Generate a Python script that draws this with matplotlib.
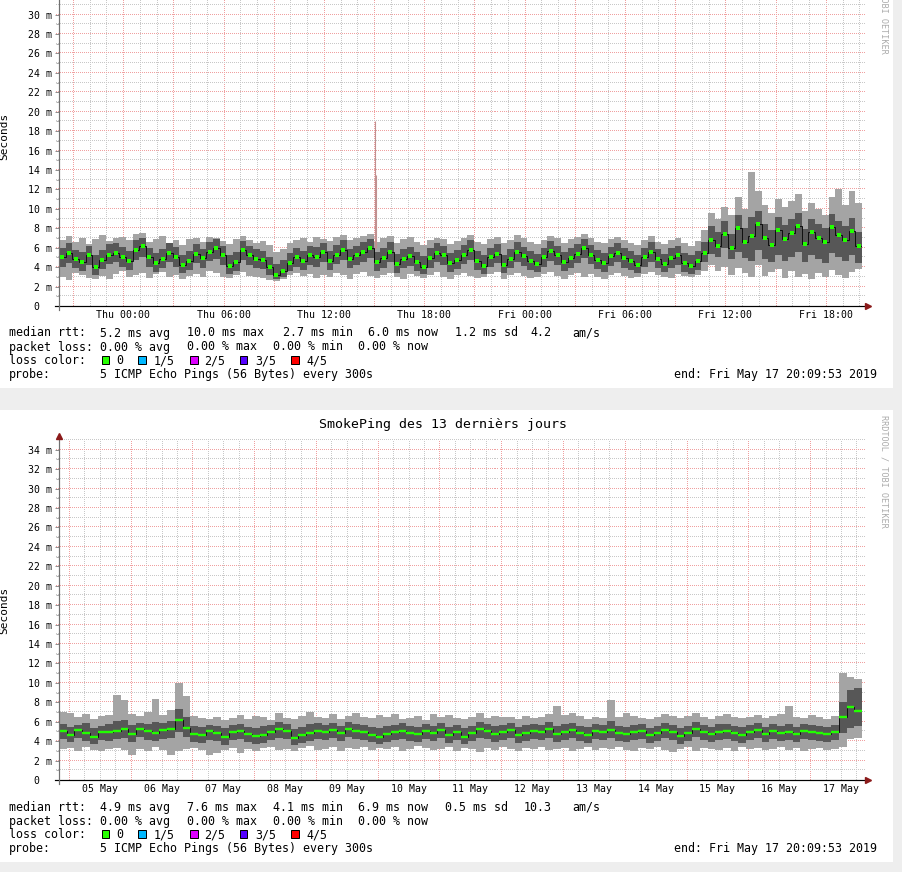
import numpy as np
import matplotlib
matplotlib.use("Agg")
import matplotlib.pyplot as plt
import matplotlib.dates as mdates
from matplotlib.patches import Rectangle
from datetime import datetime, timedelta

plt.rcParams['font.family'] = ['DejaVu Sans Mono', 'DejaVu Sans']

# ------------------------------------------------------------------ data
END = datetime(2019, 5, 17, 20, 9, 53)

# top graph: last 48 hours, 24-minute consolidated steps (milliseconds)
top_med = [5.0, 5.5, 4.8, 4.5, 5.2, 4.0, 4.7, 5.3, 5.5, 5.0, 4.6, 5.8, 6.2, 5.0, 4.4, 4.8, 5.5, 5.0, 4.2, 4.6,
           5.4, 4.9, 5.6, 6.0, 5.2, 4.1, 4.5, 5.8, 5.2, 4.8, 4.7, 4.0, 3.2, 3.6, 4.4, 5.0, 4.6, 5.2, 5.0, 5.6,
           4.6, 5.3, 5.8, 4.8, 5.2, 5.6, 6.0, 4.5, 4.9, 5.6, 4.3, 4.8, 5.1, 4.5, 4.0, 4.9, 5.5, 5.2, 4.4, 4.7,
           5.3, 5.8, 4.6, 4.1, 5.0, 5.4, 4.2, 4.8, 5.6, 5.1, 4.6, 4.3, 5.0, 5.7, 5.2, 4.5, 4.9, 5.4, 6.0, 5.3,
           4.7, 4.4, 5.1, 5.5, 4.9, 4.6, 4.2, 5.0, 5.6, 4.8, 4.3, 4.9, 5.2, 4.4, 4.1, 4.6, 5.5, 6.8, 6.2, 7.4,
           6.0, 8.0, 6.6, 7.2, 8.4, 7.0, 6.3, 7.8, 6.9, 7.5, 8.2, 6.4, 7.6, 7.0, 6.6, 8.1, 7.3, 6.8, 7.7, 6.2]
top_lo = [3.0, 2.7, 3.4, 3.2, 2.9, 2.8, 3.1, 2.8, 3.3, 3.6, 3.0, 3.2, 3.4, 2.9, 3.3, 3.5, 3.0, 3.2, 2.8, 3.1,
          3.3, 3.0, 3.6, 3.4, 3.0, 2.9, 3.2, 3.5, 3.1, 3.0, 2.9, 2.7, 2.6, 2.8, 3.2, 3.4, 3.1, 3.3, 2.9, 3.2,
          3.0, 3.4, 3.2, 2.8, 3.3, 3.5, 3.1, 2.9, 3.2, 3.4, 3.0, 2.8, 3.3, 3.1, 2.9, 3.2, 3.5, 3.0, 2.8, 3.2,
          3.4, 3.1, 2.9, 3.0, 3.3, 3.5, 2.8, 3.2, 3.4, 3.1, 2.9, 3.0, 3.3, 3.5, 3.1, 2.8, 3.2, 3.4, 3.0, 3.3,
          3.0, 2.8, 3.2, 3.4, 3.1, 2.9, 3.0, 3.3, 3.5, 3.2, 3.0, 2.9, 3.3, 3.1, 3.0, 3.2, 3.6, 4.2, 3.6, 4.0,
          3.2, 3.9, 3.4, 3.0, 4.2, 3.1, 3.5, 3.8, 2.9, 3.6, 3.0, 3.3, 2.8, 3.4, 3.0, 3.7, 3.2, 2.9, 3.5, 3.8]
top_hi = [6.8, 7.2, 6.6, 7.0, 6.4, 6.9, 7.3, 6.7, 7.0, 7.1, 6.8, 7.4, 7.5, 6.6, 6.9, 7.2, 6.5, 6.8, 6.3, 6.9,
          7.0, 6.6, 7.1, 7.0, 6.7, 6.4, 6.9, 7.2, 6.8, 6.5, 6.7, 6.3, 5.6, 5.9, 6.5, 6.8, 7.0, 6.6, 7.1, 6.9,
          6.7, 7.1, 7.3, 6.8, 7.0, 7.2, 7.4, 6.6, 7.0, 7.2, 6.5, 6.9, 7.1, 6.6, 6.3, 6.8, 7.0, 6.9, 6.4, 6.7,
          7.0, 7.3, 6.6, 6.4, 6.9, 7.1, 6.5, 6.8, 7.3, 7.0, 6.6, 6.4, 6.8, 7.2, 7.0, 6.5, 6.9, 7.1, 7.4, 7.0,
          6.6, 6.5, 6.9, 7.1, 6.8, 6.5, 6.3, 6.8, 7.2, 6.6, 6.4, 6.8, 7.0, 6.5, 6.2, 6.7, 7.8, 9.6, 9.0, 10.2,
          9.4, 11.2, 10.0, 13.8, 11.8, 10.4, 9.6, 11.0, 10.2, 10.8, 11.5, 9.8, 10.6, 10.0, 9.4, 11.2, 12.0, 10.4, 11.8, 10.6]
top_ilo = [4.0, 4.4, 3.9, 3.6, 4.2, 3.2, 3.8, 4.3, 4.5, 4.0, 3.7, 4.7, 5.0, 4.0, 3.5, 3.9, 4.5, 4.0, 3.4, 3.7,
           4.4, 3.9, 4.6, 4.8, 4.2, 3.3, 3.6, 4.7, 4.2, 3.9, 3.8, 3.2, 2.8, 3.0, 3.6, 4.0, 3.7, 4.2, 4.0, 4.5,
           3.7, 4.3, 4.7, 3.9, 4.2, 4.5, 4.9, 3.6, 3.9, 4.5, 3.4, 3.9, 4.1, 3.6, 3.3, 3.9, 4.5, 4.2, 3.5, 3.8,
           4.3, 4.7, 3.7, 3.3, 4.0, 4.4, 3.4, 3.9, 4.5, 4.1, 3.7, 3.5, 4.0, 4.6, 4.2, 3.6, 3.9, 4.4, 4.9, 4.3,
           3.8, 3.5, 4.1, 4.5, 3.9, 3.7, 3.4, 4.0, 4.5, 3.9, 3.5, 3.9, 4.2, 3.5, 3.3, 3.7, 4.5, 5.4, 5.0, 6.0,
           4.8, 5.6, 4.9, 4.6, 5.8, 4.8, 4.5, 5.2, 4.6, 5.0, 5.6, 4.5, 5.2, 4.8, 4.4, 5.5, 5.0, 4.6, 5.3, 4.4]
top_ihi = [6.0, 6.5, 5.8, 5.6, 6.2, 5.2, 5.8, 6.4, 6.5, 6.1, 5.7, 6.8, 7.0, 6.0, 5.5, 5.9, 6.5, 6.1, 5.3, 5.7,
           6.4, 5.9, 6.6, 6.9, 6.2, 5.2, 5.6, 6.7, 6.2, 5.9, 5.7, 5.0, 4.3, 4.7, 5.5, 6.0, 5.7, 6.2, 6.1, 6.5,
           5.7, 6.3, 6.8, 5.9, 6.2, 6.6, 6.9, 5.6, 6.0, 6.6, 5.4, 5.9, 6.1, 5.6, 5.1, 6.0, 6.5, 6.2, 5.5, 5.8,
           6.3, 6.8, 5.7, 5.2, 6.0, 6.4, 5.3, 5.9, 6.6, 6.1, 5.7, 5.4, 6.0, 6.7, 6.2, 5.6, 6.0, 6.4, 6.9, 6.3,
           5.8, 5.5, 6.1, 6.5, 6.0, 5.7, 5.3, 6.0, 6.6, 5.9, 5.4, 6.0, 6.2, 5.5, 5.2, 5.7, 6.6, 8.2, 7.6, 8.8,
           7.4, 9.4, 8.0, 9.2, 9.8, 8.4, 7.8, 9.2, 8.3, 9.0, 9.6, 7.9, 9.0, 8.4, 8.0, 9.5, 8.8, 8.2, 9.1, 7.6]
top_spike_times = ["2019-05-16 15:03", "2019-05-16 15:07"]
top_spike_vals = [19.0, 13.5]
top_tick_times = ["2019-05-16 00:00", "2019-05-16 06:00", "2019-05-16 12:00", "2019-05-16 18:00",
                  "2019-05-17 00:00", "2019-05-17 06:00", "2019-05-17 12:00", "2019-05-17 18:00"]
top_tick_labels = ["Thu 00:00", "Thu 06:00", "Thu 12:00", "Thu 18:00",
                   "Fri 00:00", "Fri 06:00", "Fri 12:00", "Fri 18:00"]
top_y_ticks = [0, 2, 4, 6, 8, 10, 12, 14, 16, 18, 20, 22, 24, 26, 28, 30]

# bottom graph: last 13 days, 3-hour consolidated steps (milliseconds)
bot_med = [5.0, 4.6, 5.1, 4.8, 4.4, 4.9, 4.9, 5.0, 5.2, 4.7, 5.3, 5.0, 4.8, 5.1, 5.2, 6.2, 5.4, 4.7, 4.6, 5.0,
           4.8, 4.4, 4.9, 5.0, 4.7, 4.5, 4.6, 4.9, 5.2, 5.0, 4.3, 4.6, 4.8, 5.0, 4.9, 5.1, 4.8, 5.3, 5.0, 4.9,
           4.6, 4.4, 4.7, 4.9, 5.0, 4.8, 4.7, 5.0, 4.8, 5.1, 4.6, 4.9, 4.4, 4.8, 5.2, 5.0, 4.7, 4.9, 5.1, 4.6,
           4.8, 5.0, 4.9, 5.2, 4.7, 4.9, 5.1, 4.8, 4.6, 5.0, 4.9, 5.1, 4.8, 4.7, 4.9, 5.0, 4.6, 4.8, 5.1, 4.9,
           4.5, 4.8, 5.2, 4.9, 4.7, 4.9, 5.0, 4.8, 4.6, 4.9, 5.1, 4.7, 5.0, 4.8, 4.9, 4.7, 5.0, 4.9, 4.8, 4.7,
           4.9, 6.5, 7.5, 7.1]
bot_lo = [3.2, 3.3, 3.0, 3.4, 3.1, 3.0, 3.2, 3.3, 3.1, 2.6, 3.2, 3.0, 3.4, 3.1, 2.6, 3.0, 3.2, 3.3, 3.1, 2.6,
          2.8, 3.1, 3.3, 2.8, 3.2, 3.0, 3.3, 3.4, 3.1, 3.2, 3.0, 3.3, 3.5, 3.1, 3.2, 3.4, 3.0, 3.3, 3.2, 3.4,
          3.1, 3.3, 3.2, 3.4, 3.0, 3.2, 3.5, 3.3, 3.1, 3.2, 3.4, 3.0, 3.3, 3.2, 2.9, 3.3, 3.1, 3.4, 3.2, 3.0,
          3.3, 3.2, 3.4, 3.1, 3.2, 3.3, 3.0, 3.2, 3.4, 3.1, 3.3, 3.2, 3.4, 3.1, 3.0, 3.3, 3.2, 3.4, 3.1, 2.9,
          3.2, 3.4, 3.0, 3.3, 3.2, 3.1, 3.3, 3.0, 3.4, 3.2, 3.3, 3.1, 3.2, 3.4, 3.1, 3.3, 3.0, 3.2, 3.3, 3.1,
          3.2, 3.4, 4.2, 4.3]
bot_hi = [7.0, 6.9, 6.5, 6.8, 6.3, 6.6, 6.7, 8.8, 8.2, 6.8, 6.6, 7.0, 8.3, 6.7, 7.2, 10.0, 8.6, 6.6, 6.4, 6.3,
          6.5, 6.2, 6.4, 6.7, 6.3, 6.6, 6.5, 6.2, 6.9, 6.4, 6.3, 6.6, 7.0, 6.5, 6.4, 6.8, 6.3, 6.6, 6.9, 6.5,
          6.4, 6.7, 6.5, 6.8, 6.3, 6.4, 6.6, 6.2, 6.8, 6.5, 6.7, 6.4, 6.3, 6.5, 6.9, 6.4, 6.6, 6.5, 6.5, 6.3,
          6.6, 6.4, 6.5, 6.8, 7.6, 6.7, 6.9, 6.6, 6.3, 6.5, 6.4, 8.2, 6.5, 6.9, 6.6, 6.4, 6.3, 6.5, 6.8, 6.6,
          6.4, 6.6, 6.9, 6.5, 6.3, 6.6, 6.8, 6.5, 6.4, 6.5, 6.7, 6.4, 6.6, 6.8, 7.6, 6.5, 6.4, 6.7, 6.5, 6.3,
          6.6, 11.0, 10.6, 10.4]
bot_ilo = [4.2, 3.9, 4.3, 4.0, 3.7, 4.1, 4.0, 4.2, 4.3, 3.9, 4.4, 4.1, 4.0, 4.2, 4.3, 4.9, 4.4, 3.9, 3.8, 4.1,
           4.0, 3.6, 4.1, 4.2, 3.9, 3.7, 3.8, 4.1, 4.3, 4.2, 3.6, 3.8, 4.0, 4.2, 4.1, 4.3, 4.0, 4.4, 4.2, 4.1,
           3.9, 3.7, 3.9, 4.1, 4.2, 4.0, 3.9, 4.2, 4.0, 4.3, 3.8, 4.1, 3.7, 4.0, 4.3, 4.2, 3.9, 4.1, 4.3, 3.8,
           4.0, 4.2, 4.1, 4.3, 3.9, 4.1, 4.3, 4.0, 3.8, 4.2, 4.1, 4.3, 4.0, 3.9, 4.1, 4.2, 3.8, 4.0, 4.3, 4.1,
           3.7, 4.0, 4.4, 4.1, 3.9, 4.1, 4.2, 4.0, 3.8, 4.1, 4.3, 3.9, 4.2, 4.0, 4.1, 3.9, 4.2, 4.1, 4.0, 3.9,
           4.1, 4.8, 5.4, 5.6]
bot_ihi = [5.8, 5.5, 5.7, 5.9, 5.4, 5.6, 5.8, 6.1, 6.2, 5.7, 5.9, 5.8, 6.0, 5.9, 6.1, 7.3, 6.5, 5.6, 5.5, 5.7,
           5.6, 5.4, 5.7, 5.8, 5.5, 5.4, 5.6, 5.7, 6.0, 5.8, 5.3, 5.5, 5.8, 5.9, 5.7, 5.9, 5.6, 6.0, 5.8, 5.7,
           5.5, 5.4, 5.6, 5.7, 5.9, 5.6, 5.5, 5.8, 5.6, 5.9, 5.5, 5.7, 5.4, 5.6, 6.0, 5.8, 5.6, 5.7, 5.9, 5.5,
           5.7, 5.8, 5.7, 6.0, 5.6, 5.8, 5.9, 5.6, 5.5, 5.8, 5.7, 6.1, 5.6, 5.5, 5.7, 5.8, 5.4, 5.6, 5.9, 5.7,
           5.4, 5.6, 6.0, 5.7, 5.5, 5.8, 5.8, 5.6, 5.5, 5.7, 5.9, 5.5, 5.8, 5.6, 5.8, 5.5, 5.8, 5.7, 5.6, 5.5,
           5.7, 8.0, 9.3, 9.5]
bot_tick_times = ["2019-05-%02d 12:00" % d for d in range(5, 18)]
bot_tick_labels = ["05 May", "06 May", "07 May", "08 May", "09 May", "10 May", "11 May",
                   "12 May", "13 May", "14 May", "15 May", "16 May", "17 May"]
bot_y_ticks = [0, 2, 4, 6, 8, 10, 12, 14, 16, 18, 20, 22, 24, 26, 28, 30, 32, 34]

top_rtt = ["5.2 ms avg", "10.0 ms max", "2.7 ms min", "6.0 ms now", "1.2 ms sd", "4.2", "am/s"]
bot_rtt = ["4.9 ms avg", "7.6 ms max", "4.1 ms min", "6.9 ms now", "0.5 ms sd", "10.3", "am/s"]
loss_items = ["0.00 % avg", "0.00 % max", "0.00 % min", "0.00 % now"]
loss_labels = ["0", "1/5", "2/5", "3/5", "4/5"]
loss_colors = ["#26ff00", "#00b8ff", "#dd00ff", "#5500ff", "#ff0000"]
probe_text = "5 ICMP Echo Pings (56 Bytes) every 300s"
end_text = "end: Fri May 17 20:09:53 2019"
bottom_title = "SmokePing des 13 dernièrs jours"
watermark = "RRDTOOL / TOBI OETIKER"

# ------------------------------------------------------------------ layout
W, H = 902, 872
fig = plt.figure(figsize=(W / 100, H / 100), dpi=100, facecolor="#eeeeee")


def fx(x):
    return x / W


def fy(y):
    return 1 - y / H


PX = 0.72
MAJ = "#f0a0a0"
MIN = "#c8c8c8"
FONT = 8.4
AX_W = 803.0
AX_H = 340.0


def white_panel(top, bottom):
    fig.patches.append(Rectangle((0, fy(bottom)), fx(893), (bottom - top) / H,
                                 transform=fig.transFigure, facecolor="white",
                                 edgecolor="none", zorder=-10))


def draw_graph(axis_y, start, step, med, lo, hi, ilo, ihi, tick_times, tick_labels,
               minor_h, major_test, yticks, dots):
    ax = fig.add_axes([fx(59), fy(axis_y), AX_W / W, AX_H / H])
    ax.set_zorder(1)
    ax.set_facecolor("none")
    n = len(med)
    edges = mdates.date2num([start + i * step for i in range(n + 1)])
    x0, x1 = mdates.date2num(start), mdates.date2num(END)
    ax.set_xlim(x0, x1)
    ax.set_ylim(0, 35)

    # grid: single-pixel dots every second pixel
    xtr = ax.get_xaxis_transform()
    ytr = ax.get_yaxis_transform()
    vdots = np.arange(0.5, AX_H, 2) / AX_H
    hdots = np.arange(-3.5, AX_W + 3, 2) / AX_W
    t = start.replace(minute=0, second=0) + timedelta(hours=1)
    while t <= END:
        if t.hour % minor_h == 0:
            xv = mdates.date2num(t)
            ax.plot(np.full(vdots.size, xv), vdots, ls="none", marker=",",
                    color=MAJ if major_test(t) else MIN, transform=xtr, zorder=1)
        t += timedelta(hours=1)
    for v in range(1, 36):
        ax.plot(hdots, np.full(hdots.size, v), ls="none", marker=",",
                color=MAJ if v % 2 == 0 else MIN, transform=ytr, clip_on=False, zorder=1)

    # smoke
    ax.stairs(hi, edges, baseline=lo, fill=True, color="#a4a4a4", lw=0, zorder=2)
    ax.stairs(ihi, edges, baseline=ilo, fill=True, color="#575757", lw=0, zorder=3)
    ax.stairs(med, edges, baseline=None, color="#111111", lw=PX, zorder=4)
    if dots:
        centers = (edges[:-1] + edges[1:]) / 2
        ax.plot(centers, med, ls="none", marker="s", ms=2.6, mew=0, color="#22ff00", zorder=5)
    else:
        ax.hlines(med, edges[:-1], edges[1:], color="#22ff00", lw=2.4 * PX, zorder=5)

    # axes lines and arrows
    for s in ax.spines.values():
        s.set_visible(False)
    ax.plot([-4 / AX_W, 1 + 4 / AX_W], [0, 0], transform=ytr, clip_on=False, color="black",
            lw=PX * 1.2, zorder=6)
    ax.plot([0, 0], [-0.4, 35.2], transform=ytr, clip_on=False, color="#707070",
            lw=PX * 1.2, zorder=6)
    ax.plot([1.007], [0], transform=ytr, marker=">", ms=4.2, color="#8b1a1a",
            clip_on=False, zorder=7, mec="#8b1a1a")
    ax.plot([0], [35.4], transform=ytr, marker="^", ms=4.2, color="#8b1a1a",
            clip_on=False, zorder=7, mec="#8b1a1a")

    # ticks
    ax.set_yticks(yticks, ["0  " if v == 0 else "%d m" % v for v in yticks])
    ax.set_yticks([v for v in range(1, 35, 2) if v < yticks[-1]], minor=True)
    ax.tick_params(axis="y", which="major", length=3, width=PX, color="#909090",
                   pad=1.9, labelsize=7.1)
    ax.tick_params(axis="y", which="minor", length=2, width=PX, color="#b0b0b0")
    ax.set_xticks(mdates.date2num([datetime.strptime(s, "%Y-%m-%d %H:%M") for s in tick_times]),
                  tick_labels)
    ax.tick_params(axis="x", which="major", length=0, pad=3.0, labelsize=7.1)
    ax.tick_params(axis="x", which="minor", length=0)
    return ax


def legend(axis_y, rtt, rtt_x, top):
    b = [axis_y + 30.5, axis_y + 44.5, axis_y + 58.3, axis_y + 72.3]
    kw = dict(fontsize=FONT, va="baseline", ha="left", color="black")
    fig.text(fx(9.3), fy(b[0]), "median rtt:", **kw)
    for s, x in zip(rtt, rtt_x):
        fig.text(fx(x), fy(b[0]), s, **kw)
    fig.text(fx(9.3), fy(b[1]), "packet loss:", **kw)
    for s, x in zip(loss_items, [100, 186.7, 272.7, 358.3]):
        fig.text(fx(x), fy(b[1]), s, **kw)
    fig.text(fx(9.3), fy(b[2]), "loss color:", **kw)
    for lab, col, sx, lx in zip(loss_labels, loss_colors, [101.7, 138.3, 190, 240, 291],
                                [116.7, 153.3, 204, 255, 306]):
        fig.patches.append(Rectangle((fx(sx), fy(b[2])), 7.5 / W, 8 / H, transform=fig.transFigure,
                                     facecolor=col, edgecolor="black", lw=PX, zorder=3))
        fig.text(fx(lx), fy(b[2]), lab, **kw)
    fig.text(fx(9.3), fy(b[3]), "probe:", **kw)
    fig.text(fx(100), fy(b[3]), probe_text, **kw)
    fig.text(fx(876.7), fy(b[3]), end_text, fontsize=FONT, va="baseline", ha="right")
    fig.text(fx(884.3), fy(top + 5), watermark, rotation=-90, ha="center", va="top",
             fontsize=6.1, color="#ababab")


# ---------------- top graph (48 h)
white_panel(-64, 388)
top_start = END - timedelta(hours=48)
axt = draw_graph(306, top_start, timedelta(minutes=24), top_med, top_lo, top_hi, top_ilo, top_ihi,
                 top_tick_times, top_tick_labels, 1, lambda t: t.hour % 3 == 0, top_y_ticks, True)
spx = mdates.date2num([datetime.strptime(s, "%Y-%m-%d %H:%M") for s in top_spike_times])
axt.vlines(spx, 6.0, top_spike_vals, color="#c09090", lw=PX * 1.1, zorder=2)
fig.text(fx(4), fy(136), "Seconds", rotation=90, ha="center", va="center", fontsize=8)
legend(306, top_rtt, [100, 186.7, 282.7, 368.3, 455, 530, 572.7], -64)

# ---------------- bottom graph (13 days)
white_panel(410, 862)
bot_start = END - timedelta(days=13)
axb = draw_graph(780, bot_start, timedelta(hours=3), bot_med, bot_lo, bot_hi, bot_ilo, bot_ihi,
                 bot_tick_times, bot_tick_labels, 6, lambda t: t.hour == 0, bot_y_ticks, False)
fig.text(fx(4), fy(610), "Seconds", rotation=90, ha="center", va="center", fontsize=8)
fig.text(fx(442.8), fy(428.3), bottom_title, ha="center", va="baseline", fontsize=9.5)
legend(780, bot_rtt, [100, 186.7, 272.7, 358.3, 445, 523.3, 572.7], 410)

fig.savefig("out.png", dpi=100, facecolor=fig.get_facecolor())
